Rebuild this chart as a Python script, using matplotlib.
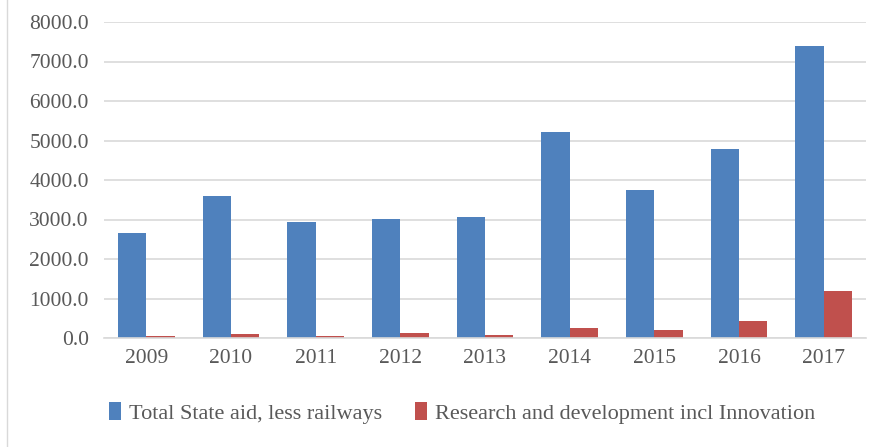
import numpy as np
import matplotlib.pyplot as plt
from matplotlib.lines import Line2D

# State aid by year (EUR million)
years = ['2009', '2010', '2011', '2012', '2013', '2014', '2015', '2016', '2017']
total_aid = [2665, 3600, 2945, 3010, 3060, 5210, 3750, 4790, 7390]
rd_innovation = [50, 90, 40, 120, 80, 260, 200, 420, 1200]

series_names = ['Total State aid, less railways',
                'Research and development incl Innovation']
colors = ['#4F81BD', '#C0504D']
text_color = '#595959'

plt.rcParams['font.family'] = ['Liberation Serif', 'DejaVu Serif']

fig = plt.figure(figsize=(8.87, 4.47), dpi=100)
ax = fig.add_axes([104 / 887, 1 - 338 / 447, (866 - 104) / 887, (338 - 22) / 447])

x = np.arange(len(years))
w = 1 / 3
b1 = ax.bar(x - w / 2, total_aid, width=w, color=colors[0], label=series_names[0])
b2 = ax.bar(x + w / 2, rd_innovation, width=w, color=colors[1], label=series_names[1])

ax.set_xlim(-0.5, len(years) - 0.5)
ax.set_ylim(0, 8000)
ax.set_yticks(np.arange(0, 8001, 1000))
ax.set_yticklabels([f'{v:.1f}' for v in range(0, 8001, 1000)])
ax.set_xticks(x)
ax.set_xticklabels(years)

ax.grid(axis='y', color='#D9D9D9', linewidth=1.2)
ax.set_axisbelow(True)
for side in ['top', 'right', 'left']:
    ax.spines[side].set_visible(False)
ax.spines['bottom'].set_color('#D9D9D9')
ax.spines['bottom'].set_linewidth(1.2)
ax.tick_params(axis='both', length=0, labelsize=15.5, colors=text_color)
ax.tick_params(axis='y', pad=11)
ax.tick_params(axis='x', pad=8)

fig.legend(handles=[b1, b2], loc='center', bbox_to_anchor=(0.521, 1 - 413 / 447),
           ncol=2, frameon=False, fontsize=16, labelcolor=text_color,
           handlelength=0.55, handleheight=0.85, handletextpad=0.35, columnspacing=1.5)

# thin frame line on the left edge
fig.add_artist(Line2D([7 / 887, 7 / 887], [0, 1], color='#D9D9D9', linewidth=1))

fig.savefig('out.png', dpi=100)
